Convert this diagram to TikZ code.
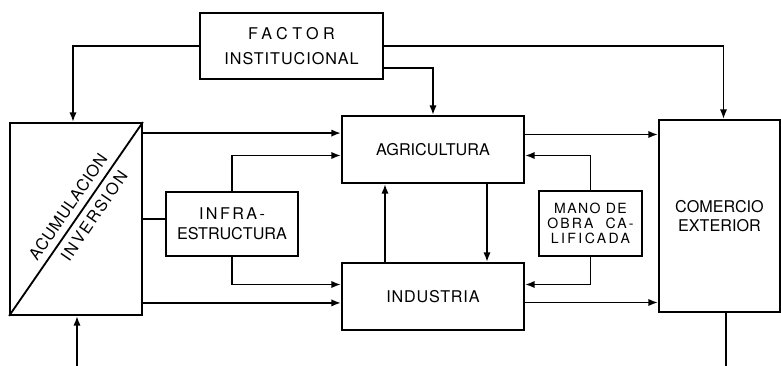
\documentclass[tikz,border=0pt]{standalone}
\usepackage{fontspec}
\setmainfont{TeX Gyre Heros}
\usepackage{tikz}
\usetikzlibrary{arrows.meta}
\newdimen\pxu \pxu=0.025cm
\tikzset{
  blk/.style={draw, line width=1.3pt, inner sep=0pt, align=center, font=\fontsize{11.5}{14}\selectfont},
  lbl/.style={inner sep=0pt, font=\fontsize{11.5}{14}\selectfont},
  ln/.style={line width=1.3pt},
  arr/.style={line width=1.3pt, -{Latex[length=2.4mm,width=1.8mm]}}
}

\begin{document}
\begin{tikzpicture}[x=0.025cm, y=-0.025cm]
\useasboundingbox (0,0) rectangle (781,366);
% boxes
\node[blk, minimum width=183\pxu, minimum height=66\pxu] (fac) at (291.5,46) {{\addfontfeature{LetterSpace=28}FACTOR}\\[4pt]{\addfontfeature{LetterSpace=6}INSTITUCIONAL}};
\node[blk, minimum width=132\pxu, minimum height=192\pxu] (acu) at (76,219) {};
\node[blk, minimum width=182\pxu, minimum height=67\pxu] (agr) at (433,149.5) {AGRICULTURA};
\node[blk, minimum width=182\pxu, minimum height=67\pxu] (ind) at (433,296.5) {\addfontfeature{LetterSpace=5}INDUSTRIA};
\node[blk, minimum width=132\pxu, minimum height=64\pxu] (inf) at (232,224) {{\addfontfeature{LetterSpace=15}INFRA-}\\ESTRUCTURA};
\node[blk, minimum width=103\pxu, minimum height=65\pxu, font=\fontsize{10}{10.5}\selectfont] (mano) at (590.5,223.5) {{\addfontfeature{LetterSpace=10}MANO DE}\\{\addfontfeature{LetterSpace=15}OBRA\ \ CA-}\\{\addfontfeature{LetterSpace=17}LIFICADA}};
\node[blk, minimum width=121\pxu, minimum height=192\pxu] (com) at (719.5,216) {COMERCIO\\EXTERIOR};
% split of the accumulation box
\draw[ln] (acu.south west) -- (acu.north east);
\node[lbl, rotate=55.5] (acuA) at ([shift={(-8,-12)}]acu.center) {\addfontfeature{LetterSpace=4}ACUMULACION};
\node[lbl, rotate=55.5] (acuB) at ([shift={(18,-3)}]acu.center) {\addfontfeature{LetterSpace=12}INVERSION};
% from the institutional factor
\draw[arr] (fac.west) -| ([xshift=-3\pxu]acu.north);
\draw[arr] (fac.east) -| ([xshift=4\pxu]com.north);
\draw[arr] ([yshift=-22\pxu]fac.east) -| (agr.north);
% from accumulation
\coordinate (a1) at ([yshift=-11\pxu]acu.north east);
\coordinate (a3) at ([yshift=13\pxu]acu.south east);
\draw[arr] (a1) -- (a1 -| agr.west);
\draw[ln] (acu.east) -- (acu.east -| inf.west);
\draw[arr] (a3) -- (a3 -| ind.west);
% infrastructure and skilled labour
\draw[arr] (inf.north) |- ([yshift=-6\pxu]agr.west);
\draw[arr] (inf.south) |- ([yshift=12\pxu]ind.west);
\draw[arr] (mano.north) |- ([yshift=-6\pxu]agr.east);
\draw[arr] (mano.south) |- ([yshift=12\pxu]ind.east);
% between the sectors
\draw[arr] ([xshift=-48\pxu]ind.north) -- ([xshift=-48\pxu]agr.south);
\draw[arr] ([xshift=54\pxu]agr.south) -- ([xshift=54\pxu]ind.north);
% to foreign trade
\coordinate (b1) at ([yshift=15\pxu]agr.east);
\coordinate (b3) at ([yshift=-6\pxu]ind.east);
\draw[arr] (b1) -- (b1 -| com.west);
\draw[arr] (b3) -- (b3 -| com.west);
% loose ends at the bottom
\coordinate (ain) at (77,366);
\coordinate (cout) at (726,366);
\draw[arr] (ain) -- (ain |- acu.south);
\draw[ln] (cout |- com.south) -- (cout);
\end{tikzpicture}
\end{document}
